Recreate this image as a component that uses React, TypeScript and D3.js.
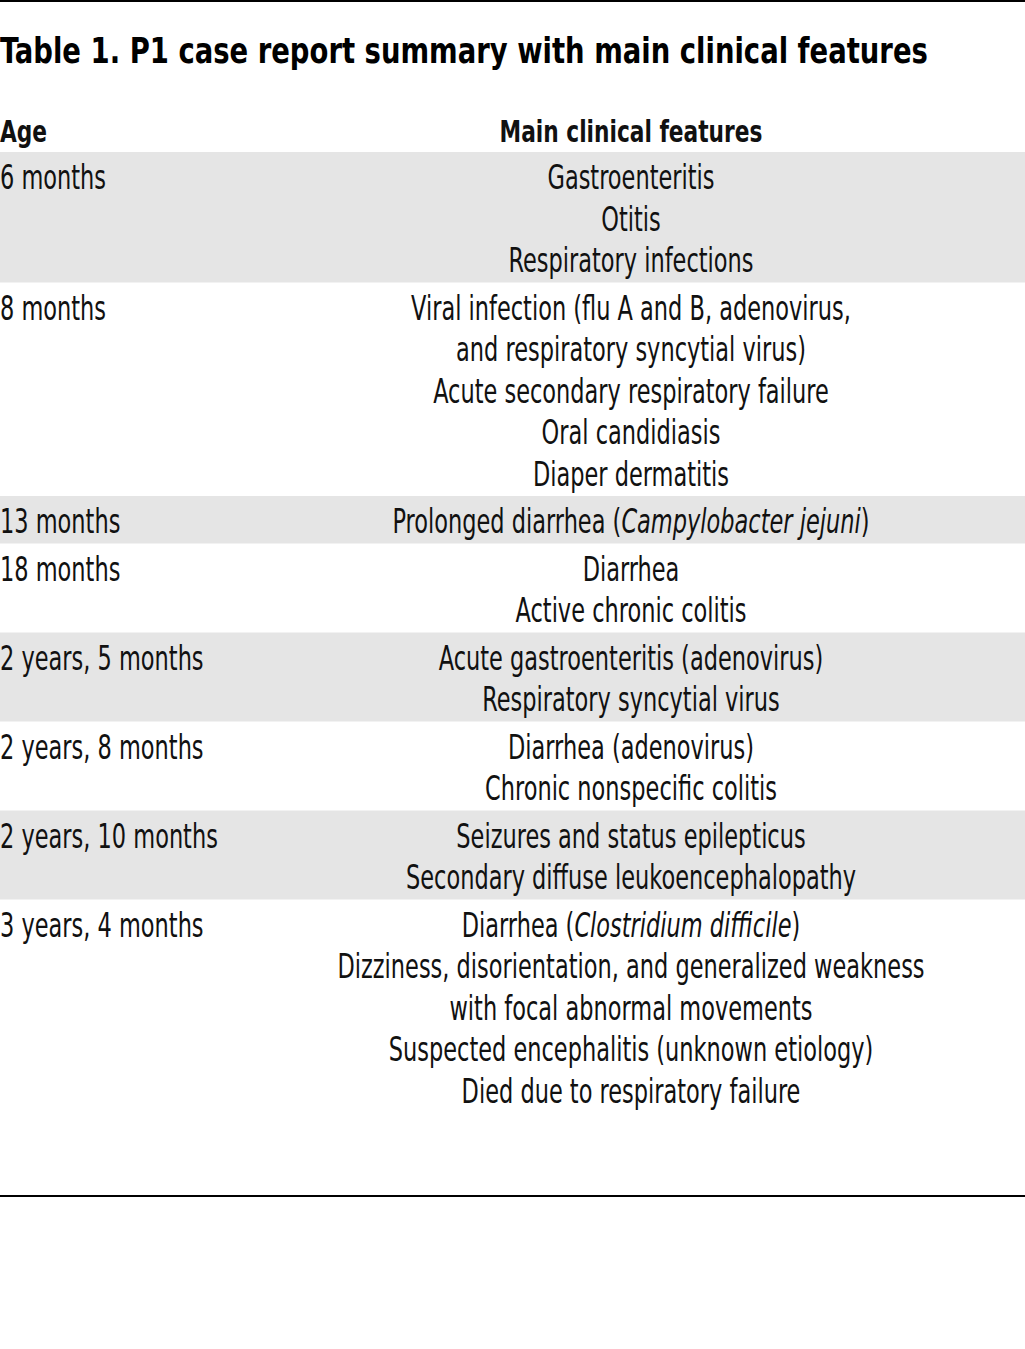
import { useLayoutEffect, useRef, useState } from "react";
import * as d3 from "d3";

const TITLE = "Table 1. P1 case report summary with main clinical features";
const HEADERS = ["Age", "Main clinical features"];
const AGES = [
  "6 months",
  "8 months",
  "13 months",
  "18 months",
  "2 years, 5 months",
  "2 years, 8 months",
  "2 years, 10 months",
  "3 years, 4 months",
];
// _text_ marks an italic run
const FEATURES: string[][] = [
  ["Gastroenteritis", "Otitis", "Respiratory infections"],
  [
    "Viral infection (flu A and B, adenovirus,",
    "and respiratory syncytial virus)",
    "Acute secondary respiratory failure",
    "Oral candidiasis",
    "Diaper dermatitis",
  ],
  ["Prolonged diarrhea (_Campylobacter jejuni_)"],
  ["Diarrhea", "Active chronic colitis"],
  ["Acute gastroenteritis (adenovirus)", "Respiratory syncytial virus"],
  ["Diarrhea (adenovirus)", "Chronic nonspecific colitis"],
  ["Seizures and status epilepticus", "Secondary diffuse leukoencephalopathy"],
  [
    "Diarrhea (_Clostridium difficile_)",
    "Dizziness, disorientation, and generalized weakness",
    "with focal abnormal movements",
    "Suspected encephalitis (unknown etiology)",
    "Died due to respiratory failure",
  ],
];

const W = 1025;
const H = 1349;
const LINE = 41.5;
const PAD = 6;
const BODY_TOP = 152;
const FIRST_BASE = 37;
const COL2_X = 631;
const FONT = "'Liberation Sans Narrow', 'DejaVu Sans Condensed', 'Noto Sans', sans-serif";
const INK = "#111";

function Runs({ s }: { s: string }) {
  const parts = s.split("_");
  return (
    <>
      {parts.map((p, i) => (
        <tspan key={i} fontStyle={i % 2 === 1 ? "italic" : "normal"}>
          {p}
        </tspan>
      ))}
    </>
  );
}

export default function App() {
  const refReg = useRef<SVGTextElement | null>(null);
  const refTitle = useRef<SVGTextElement | null>(null);
  const refHead = useRef<SVGTextElement | null>(null);
  const [k, setK] = useState(0.83);
  const [kt, setKt] = useState(0.83);
  const [kh, setKh] = useState(0.8);

  // squeeze the fallback fonts to the widths seen in the original
  useLayoutEffect(() => {
    const fit = (el: SVGTextElement | null, target: number, set: (v: number) => void) => {
      if (!el) return;
      const len = el.getComputedTextLength();
      if (len > 0) set(target / len);
    };
    fit(refReg.current, 587, setK);
    fit(refTitle.current, 928, setKt);
    fit(refHead.current, 263, setKh);
  }, []);

  const heights = FEATURES.map((f) => f.length * LINE + PAD);
  const tops = [BODY_TOP, ...Array.from(d3.cumsum(heights)).map((c) => BODY_TOP + c)];

  return (
    <div style={{ position: "absolute", left: 0, top: 0 }}>
      <svg width={W} height={H} style={{ display: "block", background: "#fff" }}>
        <rect x={0} y={0} width={W} height={2} fill="#000" />
        <text
          ref={refTitle}
          transform={`translate(0,63) scale(${kt},1)`}
          fontFamily={FONT}
          fontWeight="bold"
          fontSize={35}
          fill="#000"
        >
          {TITLE}
        </text>
        <text
          transform={`translate(0,142) scale(${kh},1)`}
          fontFamily={FONT}
          fontWeight="bold"
          fontSize={31}
          fill={INK}
        >
          {HEADERS[0]}
        </text>
        <text
          ref={refHead}
          transform={`translate(${COL2_X},142) scale(${kh},1)`}
          fontFamily={FONT}
          fontWeight="bold"
          fontSize={31}
          textAnchor="middle"
          fill={INK}
        >
          {HEADERS[1]}
        </text>

        {FEATURES.map((lines, r) => (
          <g key={r}>
            {r % 2 === 0 && (
              <rect x={0} y={tops[r]} width={W} height={heights[r]} fill="#e5e5e5" />
            )}
            <text
              transform={`translate(0,${tops[r] + FIRST_BASE}) scale(${k},1)`}
              fontFamily={FONT}
              fontSize={34}
              fill={INK}
            >
              {AGES[r]}
            </text>
            {lines.map((ln, i) => (
              <text
                key={i}
                ref={ln.startsWith("Dizziness") ? refReg : undefined}
                transform={`translate(${COL2_X},${tops[r] + FIRST_BASE + i * LINE}) scale(${k},1)`}
                fontFamily={FONT}
                fontSize={34}
                textAnchor="middle"
                fill={INK}
              >
                <Runs s={ln} />
              </text>
            ))}
          </g>
        ))}

        <rect x={0} y={1195} width={W} height={2} fill="#000" />
      </svg>
    </div>
  );
}
